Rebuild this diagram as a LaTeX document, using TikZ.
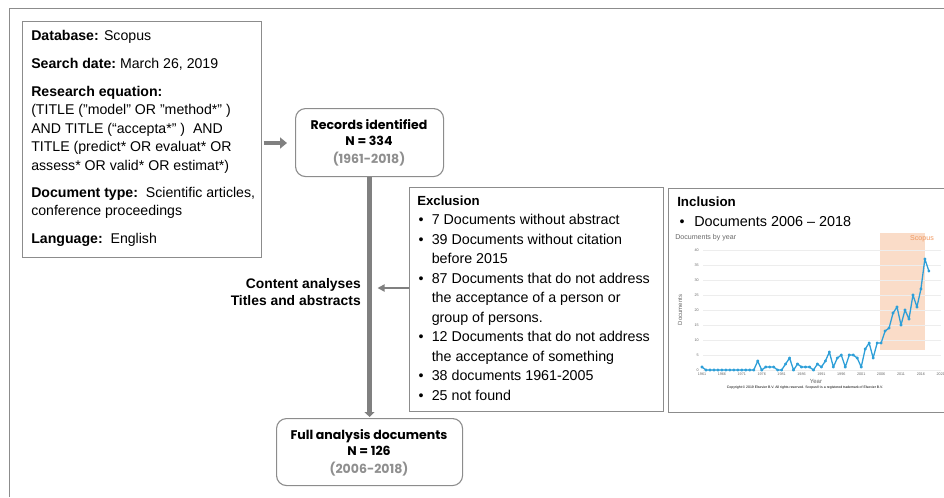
\documentclass[tikz,border=0pt]{standalone}
\usepackage{fontspec}
\setmainfont{Liberation Sans}
\newfontfamily\gothic{Poppins}
\usetikzlibrary{arrows.meta}
\definecolor{bordergray}{HTML}{8C8C8C}
\definecolor{arrowgray}{HTML}{808080}
\definecolor{yeargray}{HTML}{8F8F8F}
\definecolor{scopusblue}{HTML}{2E9FD8}
\definecolor{bandorange}{HTML}{FADCC8}
\definecolor{scopusorange}{HTML}{F0975E}
\definecolor{gridgray}{HTML}{EDEDED}
\definecolor{axisgray}{HTML}{666666}
\def\px{0.75pt}
\def\dq{\symbol{34}}
\tikzset{
  box/.style={draw=bordergray, line width=1.2*\px, inner sep=0pt, anchor=north west},
  roundbox/.style={draw=bordergray, line width=1.1*\px, rounded corners=10*\px, inner sep=0pt, anchor=north west},
  srctext/.style={anchor=base west, inner sep=0pt, font=\fontsize{10.6}{12}\selectfont},
  listtext/.style={anchor=base west, inner sep=0pt, font=\fontsize{10.7}{12}\selectfont},
  bul/.style={anchor=base, inner sep=0pt, font=\fontsize{10.7}{12}\selectfont},
  gtext/.style={anchor=base, inner sep=0pt, font=\gothic\bfseries\fontsize{9.4}{11}\selectfont},
  thickarrow/.style={draw=arrowgray, line width=4.5*\px, -{Triangle[length=7*\px,width=11*\px]}},
  thinarrow/.style={draw=arrowgray, line width=1.8*\px, -{Triangle[length=7*\px,width=7*\px]}},
  tiny/.style={inner sep=0pt, text=axisgray, font=\fontsize{2.8}{3}\selectfont},
}
\begin{document}
\begin{tikzpicture}[x=0.75pt,y=-0.75pt]
\useasboundingbox (0,0) rectangle (944,497);
% outer frame
\draw[bordergray, line width=1.3*\px] (9.5,497) -- (9.5,8.5) -- (944,8.5);

% source box
\node[box, minimum width=239*\px, minimum height=236*\px] (src) at (22,21) {};
\node[srctext] (s1) at (31,40) {\textbf{Database:} Scopus};
\node[srctext] (s2) at (31,68) {\textbf{Search date:}\ March 26, 2019};
\node[srctext] (s3) at (31,96) {\textbf{Research equation:}};
\node[srctext] (s4) at (31,114.5) {(TITLE (\dq model\dq\ OR \dq method*\dq\ )};
\node[srctext] (s5) at (31,133) {AND TITLE (“accepta*” )\ \ AND};
\node[srctext] (s6) at (31,151.5) {TITLE (predict* OR evaluat* OR};
\node[srctext] (s7) at (31,170) {assess* OR valid* OR estimat*)};
\node[srctext] (s8) at (31,197) {\textbf{Document type:}\ \ Scientific articles,};
\node[srctext] (s9) at (31,215) {conference proceedings};
\node[srctext] (s10) at (31,243) {\textbf{Language:}\ \ English};

% records box
\node[roundbox, minimum width=148*\px, minimum height=68*\px] (rec) at (295,108) {};
\node[gtext] (r1) at (369,129.5) {Records identified};
\node[gtext] (r2) at (369,145.5) {N = 334};
\node[gtext, text=yeargray] (r3) at (369,163) {(1961-2018)};

% full analysis box
\node[roundbox, minimum width=186*\px, minimum height=67*\px] (full) at (276,418) {};
\node[gtext] (f1) at (369,439.5) {Full analysis documents};
\node[gtext] (f2) at (369,455.5) {N = 126};
\node[gtext, text=yeargray] (f3) at (369,473) {(2006-2018)};

% exclusion box
\node[box, minimum width=254*\px, minimum height=224*\px] (excl) at (409,186.5) {};
\node[listtext] (e0) at (417,205.5) {\fontsize{9.9}{12}\selectfont\textbf{Exclusion}};
\foreach \yy/\tt [count=\k] in {224.5/7 Documents without abstract, 244/39 Documents without citation, 263.5/before 2015, 283/87 Documents that do not address, 302.5/the acceptance of a person or, 322/group of persons., 341.5/12 Documents that do not address, 361/the acceptance of something, 380.5/38 documents 1961-2005, 400/25 not found}{
  \node[listtext] (e\k) at (431.5,\yy) {\tt};
}
\foreach \yy [count=\k] in {224.5,244,283,341.5,380.5,400}{
  \node[bul] (eb\k) at (421,\yy) {•};
}

% inclusion box
\node[box, minimum width=300*\px, minimum height=224.5*\px] (incl) at (668,187.5) {};
\node[listtext] (i0) at (677,206.5) {\fontsize{10}{12}\selectfont\textbf{Inclusion}};
\node[bul] (ib1) at (682,226) {•};
\node[listtext] (i1) at (694,226) {\fontsize{10.8}{12}\selectfont Documents 2006 – 2018};

% chart
\fill[bandorange] (880,232.5) rectangle (925,350);
\foreach \k in {0,...,8}{
  \draw[gridgray, line width=0.6*\px] (703,370-15*\k) -- (941,370-15*\k);
  \pgfmathtruncatemacro{\lab}{5*\k}
  \node[tiny, anchor=east] (yl\k) at (699,370-15*\k) {\lab};
}
\foreach \yr [count=\k from 0] in {1961,1966,1971,1976,1981,1986,1991,1996,2001,2006,2011,2016,2021}{
  \node[tiny, anchor=north] (xl\k) at (702+19.9*\k,372.5) {\yr};
}
\node[anchor=west, inner sep=0pt, text=axisgray, font=\fontsize{5.3}{6}\selectfont] (ctitle) at (675,237.5) {Documents by year};
\node[inner sep=0pt, text=scopusorange, font=\fontsize{5.3}{6}\selectfont] (cscop) at (922,238.5) {Scopus};
\node[inner sep=0pt, rotate=90, text=axisgray, font=\fontsize{4.5}{5}\selectfont] (cylab) at (680,310) {Documents};
\node[inner sep=0pt, text=axisgray, font=\fontsize{4.5}{5}\selectfont] (cxlab) at (816,381.5) {Year};
\node[inner sep=0pt, font=\fontsize{2.6}{3}\selectfont] (ccopy) at (805,387.5) {Copyright © 2019 Elsevier B.V. All rights reserved. Scopus® is a registered trademark of Elsevier B.V.};
\begin{scope}[shift={(702,370)}, x=3.98*0.75pt, y=3*0.75pt]
\draw[scopusblue, line width=1.3*\px, line join=round, mark=*, mark size=0.9*\px, mark options={fill=scopusblue, draw=scopusblue}] plot coordinates {(0,1)(1,0)(2,0)(3,0)(4,0)(5,0)(6,0)(7,0)(8,0)(9,0)(10,0)(11,0)(12,0)(13,0)(14,3)(15,0)(16,1)(17,1)(18,1)(19,0)(20,0)(21,2)(22,4)(23,0)(24,2)(25,1)(26,1)(27,1)(28,0)(29,2)(30,1)(31,3)(32,6)(33,1)(34,4)(35,5)(36,1)(37,5)(38,5)(39,4)(40,1)(41,7)(42,9)(43,4)(44,9)(45,9)(46,13)(47,14)(48,19)(49,21)(50,15)(51,20)(52,17)(53,25)(54,21)(55,27)(56,37)(57,33)};
\end{scope}

% content label
\node[anchor=base east, inner sep=0pt, align=right, font=\bfseries\fontsize{10.4}{12}\selectfont] (cl1) at (361,288) {Content analyses};
\node[anchor=base east, inner sep=0pt, align=right, font=\bfseries\fontsize{10.4}{12}\selectfont] (cl2) at (361,305) {Titles and abstracts};

% connectors
\draw[thickarrow, shorten <=1.5*\px, shorten >=8*\px] (src.east |- 0,143) -- (rec.west |- 0,143);
\draw[draw=arrowgray, line width=5*\px, -{Triangle[length=5*\px,width=10*\px]}, shorten >=1*\px] (rec.south) -- (full.north);
\coordinate (hit) at (369,288);
\draw[thinarrow, shorten >=8.5*\px] (excl.west |- hit) -- (hit);
\end{tikzpicture}
\end{document}
